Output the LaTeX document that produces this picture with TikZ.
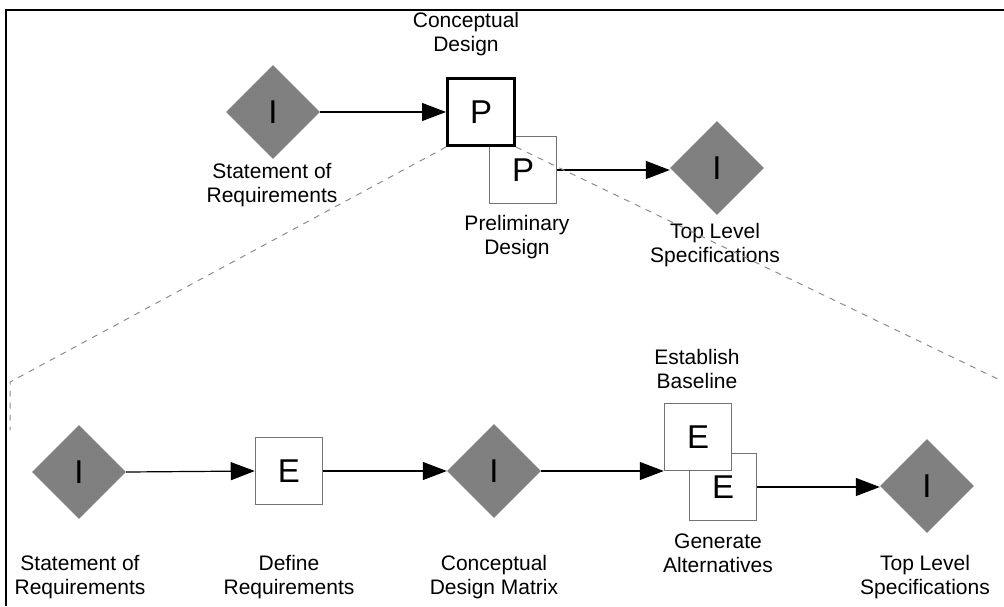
\documentclass[tikz,border=0pt]{standalone}
\usepackage{fontspec}
\setmainfont{Liberation Sans}
\usetikzlibrary{shapes.geometric,arrows.meta}
\begin{document}
\begin{tikzpicture}[x=1pt,y=-1pt,
  inputnode/.style={diamond,aspect=1,fill=black!50,inner sep=0pt,minimum size=94pt,
    font=\fontsize{33}{33}\selectfont},
  procbox/.style={rectangle,draw=black,line width=3pt,fill=white,inner sep=0pt,minimum size=67pt,
    font=\fontsize{33}{33}\selectfont},
  subbox/.style={rectangle,draw=black!55,line width=1.5pt,fill=white,inner sep=0pt,minimum size=67pt,
    font=\fontsize{33}{33}\selectfont},
  caption/.style={align=center,inner sep=0pt,font=\fontsize{21}{24}\selectfont},
  flow/.style={line width=1.2pt,-{Triangle[length=24pt,width=18pt]}},
  zoomline/.style={draw=black!45,line width=1pt,dash pattern=on 6pt off 6pt}]
\useasboundingbox (0,0) rectangle (1004,606);
% frame
\draw[line width=1.5pt] (6,606) -- (6,10) -- (1004,10);

% ---- overview ----
\node[inputnode] (sr) at (273,112) {I};
\node[subbox] (pd) at (523,170) {P};
\node[procbox] (cd) at (481,112) {P};
\node[inputnode] (tl) at (717,168) {I};
\node[caption] at (272,185) {Statement of\\Requirements};
\node[caption] at (466,34) {Conceptual\\Design};
\node[caption] at (517,237) {Preliminary\\Design};
\node[caption] at (715,245) {Top Level\\Specifications};
\draw[flow] (sr.east) -- (cd.west);
\draw[flow] (pd.east) -- (pd.east -| tl.west);

% zoom-out guides
\coordinate (gl1) at (10,382);
\coordinate (gl2) at (10,430);
\coordinate (gr1) at (1002,381);
\draw[zoomline] (cd.south west) -- (gl1) -- (gl2);
\draw[zoomline] (cd.south east) -- (gr1);

% ---- detailed flow ----
\node[inputnode] (sr2) at (79,472) {I};
\node[subbox] (dr) at (289,471) {E};
\node[inputnode] (cm) at (494,471) {I};
\node[subbox] (ga) at (723,487) {E};
\node[subbox] (eb) at (698,437) {E};
\node[inputnode] (tl2) at (927,486) {I};
\node[caption] at (80,577) {Statement of\\Requirements};
\node[caption] at (289,577) {Define\\Requirements};
\node[caption] at (494,577) {Conceptual\\Design Matrix};
\node[caption] at (697,369) {Establish\\Baseline};
\node[caption] at (718,553) {Generate\\Alternatives};
\node[caption] at (925,577) {Top Level\\Specifications};
\draw[flow] (sr2.east) -- (dr.west);
\draw[flow] (dr.east) -- (dr.east -| cm.west);
\draw[flow] (cm.east) -- (cm.east -| eb.west);
\draw[flow] (ga.east) -- (ga.east -| tl2.west);
\end{tikzpicture}
\end{document}
